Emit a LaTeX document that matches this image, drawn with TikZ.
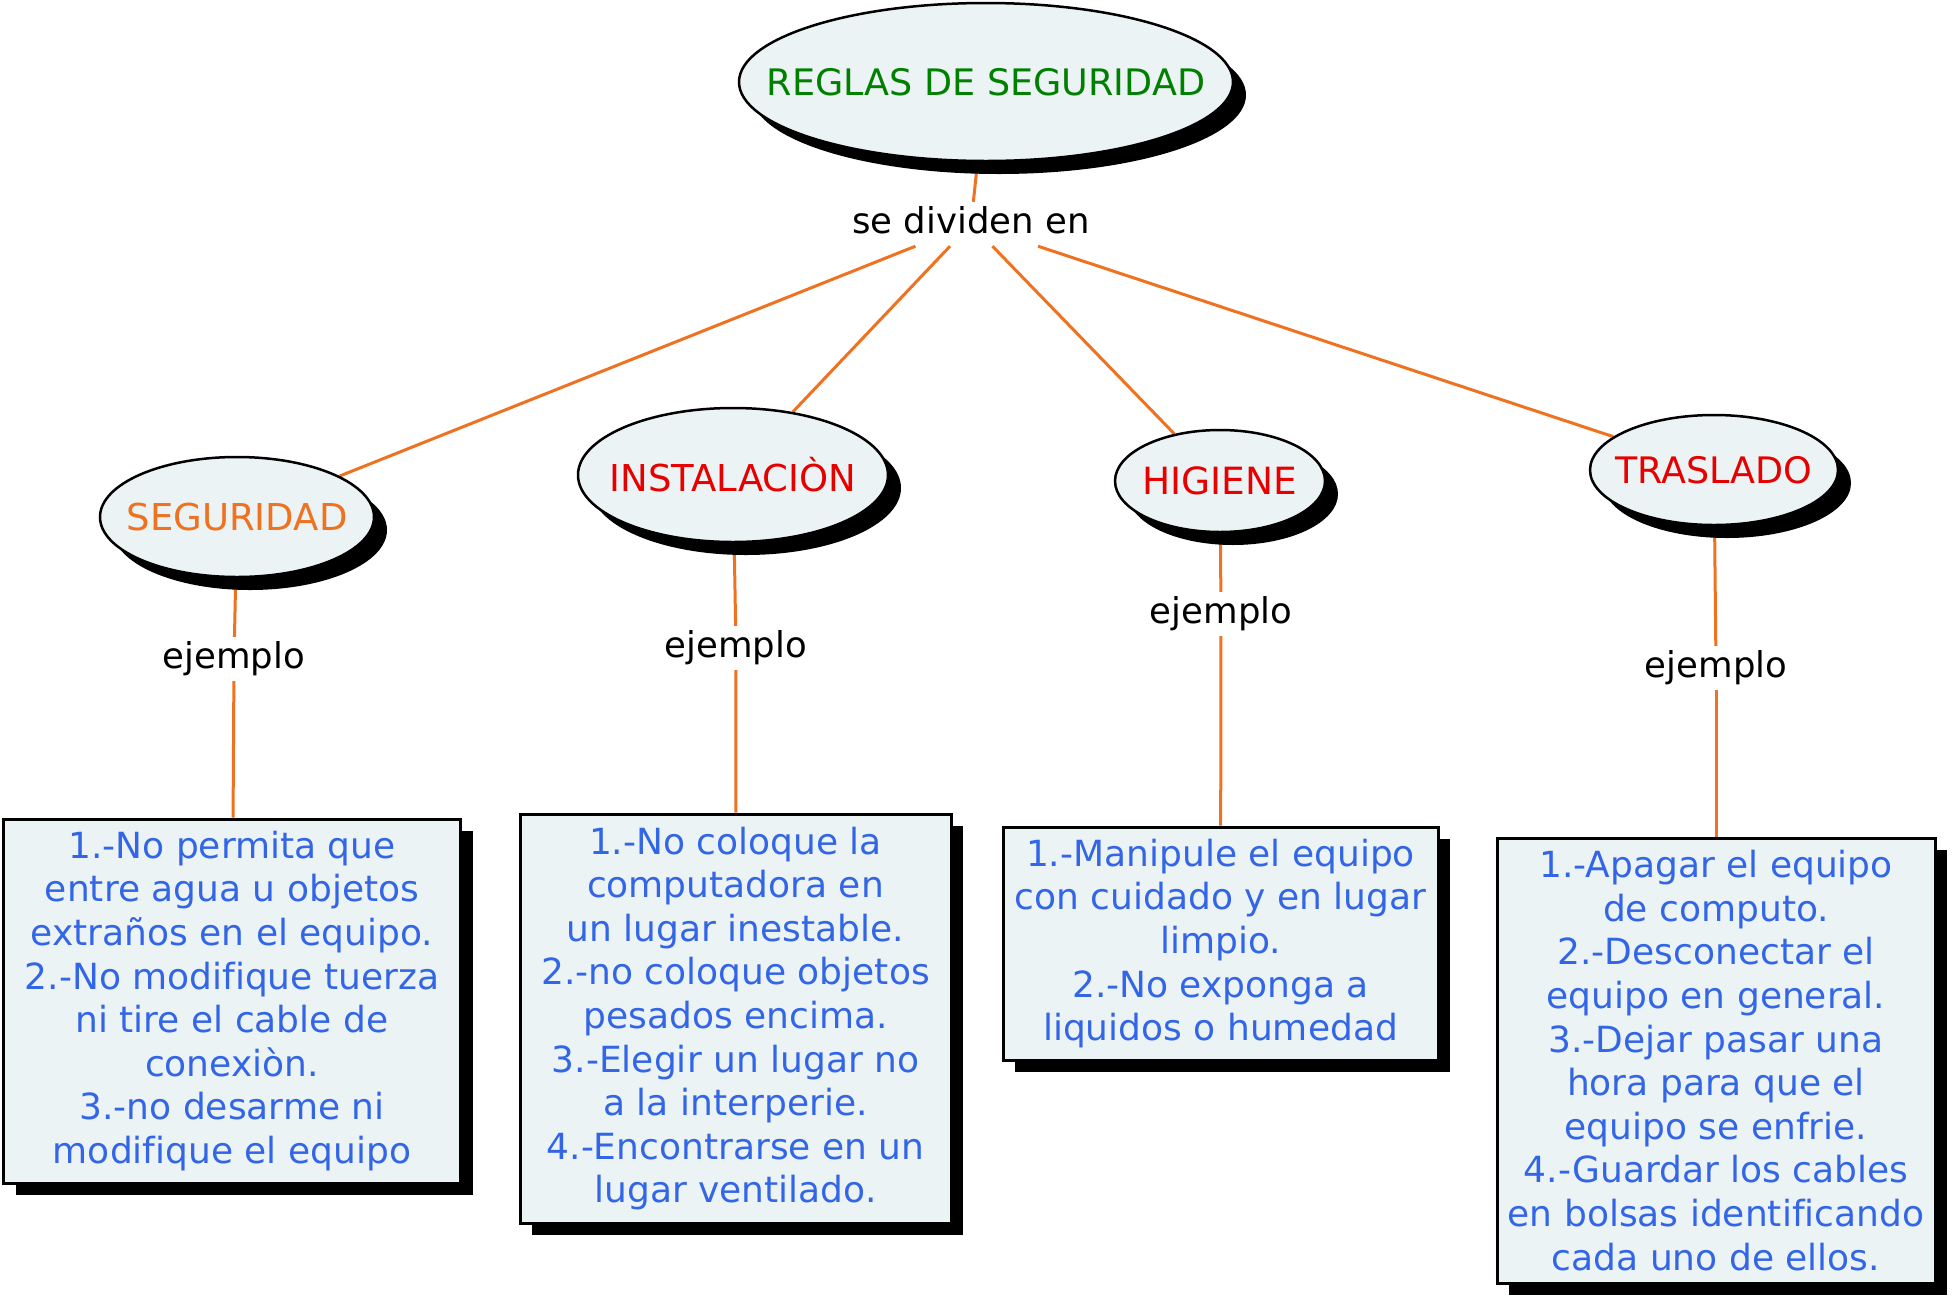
\documentclass[tikz,border=0pt]{standalone}
\usepackage{fontspec}
\setmainfont{DejaVu Sans}[Ligatures=CommonOff]
\usetikzlibrary{shapes.geometric,shadows,backgrounds}
\definecolor{fillc}{RGB}{236,243,245}
\definecolor{linec}{RGB}{238,114,32}
\definecolor{greenc}{RGB}{0,128,0}
\definecolor{redc}{RGB}{230,0,0}
\definecolor{bluec}{RGB}{51,102,230}
\begin{document}
\begin{tikzpicture}[x=1pt,y=-1pt,
  oval/.style={ellipse, draw=black, line width=2.5pt, fill=fillc, inner sep=0pt,
    font=\fontsize{37}{43}\selectfont,
    drop shadow={shadow xshift=13pt, shadow yshift=-13pt, opacity=1, fill=black}},
  lbl/.style={font=\fontsize{35.5}{42}\selectfont, text=black, text height=26pt, text depth=8pt, inner sep=5pt},
  box/.style={rectangle, draw=black, line width=3pt, fill=fillc, text=bluec,
    font=\fontsize{36}{43.6}\selectfont, align=center, inner sep=0pt,
    drop shadow={shadow xshift=12pt, shadow yshift=-12pt, opacity=1, fill=black}},
  conn/.style={draw=linec, line width=3pt}]
\useasboundingbox (0,0) rectangle (1953,1304);

% ovals
\node[oval, minimum width=494pt, minimum height=158pt, text=greenc, font=\fontsize{36.5}{43}\selectfont] (reg) at (986,82) {\makebox[0pt]{REGLAS DE SEGURIDAD}};
\node[oval, minimum width=274pt, minimum height=120pt, text=linec] (seg) at (237,517) {\makebox[0pt]{SEGURIDAD}};
\node[oval, minimum width=310pt, minimum height=134pt, text=redc] (inst) at (733,475) {\makebox[0pt]{INSTALACIÒN}};
\node[oval, minimum width=210pt, minimum height=102pt, text=redc, font=\fontsize{37.5}{43}\selectfont] (hig) at (1220,481) {\makebox[0pt]{HIGIENE}};
\node[oval, minimum width=248pt, minimum height=110pt, text=redc, font=\fontsize{36.5}{43}\selectfont] (tras) at (1714,470) {\makebox[0pt]{TRASLADO}};

% labels
\node[lbl] (div) at (971,224) {se dividen en};
\node[lbl] (e1) at (234,659) {ejemplo};
\node[lbl] (e2) at (736,648) {ejemplo};
\node[lbl] (e3) at (1221,614) {ejemplo};
\node[lbl] (e4) at (1716,668) {ejemplo};

% boxes
\node[box, minimum width=457pt, minimum height=364pt] (b1) at (232,1001) {1.-No permita que\\entre agua u objetos\\extraños en el equipo.\\2.-No modifique tuerza\\ni tire el cable de\\conexiòn.\\3.-no desarme ni\\modifique el equipo};
\node[box, minimum width=431pt, minimum height=409pt] (b2) at (735.5,1018.5) {1.-No coloque la\\computadora en\\un lugar inestable.\\2.-no coloque objetos\\pesados encima.\\3.-Elegir un lugar no\\a la interperie.\\4.-Encontrarse en un\\lugar ventilado.};
\node[box, minimum width=435pt, minimum height=233pt] (b3) at (1220.5,943.5) {1.-Manipule el equipo\\con cuidado y en lugar\\limpio.\\2.-No exponga a\\liquidos o humedad};
\node[box, minimum width=438pt, minimum height=445pt] (b4) at (1716,1060.5) {1.-Apagar el equipo\\de computo.\\2.-Desconectar el\\equipo en general.\\3.-Dejar pasar una\\hora para que el\\equipo se enfrie.\\4.-Guardar los cables\\en bolsas identificando\\cada uno de ellos.};

\begin{scope}[on background layer]
\fill[white] (0,0) rectangle (1953,1304);
\draw[conn] (reg) -- (div);
\draw[conn] (div) -- (seg);
\draw[conn] (div) -- (inst);
\draw[conn] (div) -- (hig);
\draw[conn] (div) -- (tras);
\draw[conn] (seg) -- (e1);
\draw[conn] (e1) -- (b1);
\draw[conn] (inst) -- (e2);
\draw[conn] (e2) -- (b2);
\draw[conn] (hig) -- (e3);
\draw[conn] (e3) -- (b3);
\draw[conn] (tras) -- (e4);
\draw[conn] (e4) -- (b4);
\end{scope}
\end{tikzpicture}
\end{document}
